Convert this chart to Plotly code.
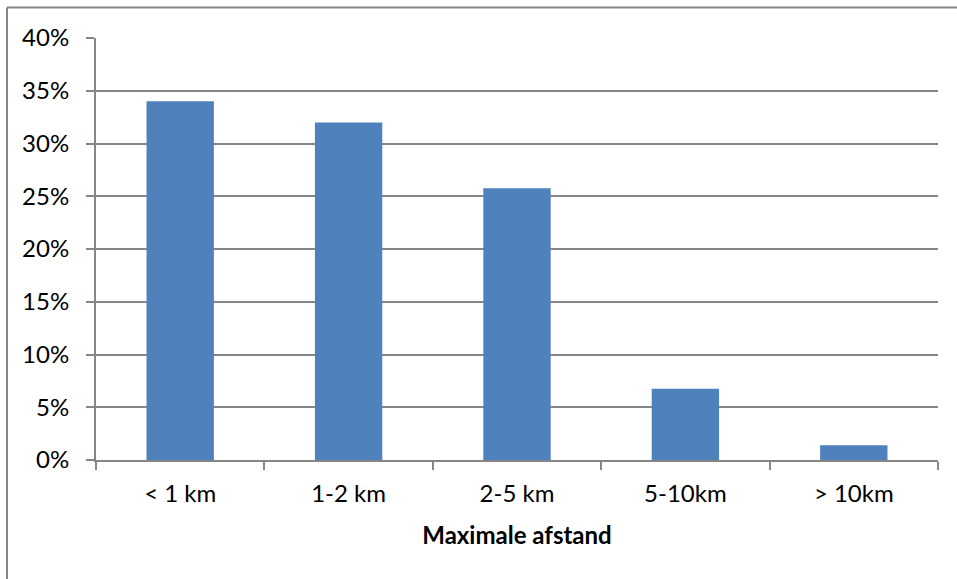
import plotly.graph_objects as go

categories = ["< 1 km", "1-2 km", "2-5 km", "5-10km", "> 10km"]
values = [0.340, 0.320, 0.2575, 0.0675, 0.014]
y_ticks = [0, 0.05, 0.10, 0.15, 0.20, 0.25, 0.30, 0.35, 0.40]

W, H = 957, 579
L, R, T, B = 96, 19, 38, 119
pw, ph = W - L - R, H - T - B

GRAY = "#868686"
FONT = "Lato, Carlito, Calibri, sans-serif"
FS = 24

fig = go.Figure(go.Bar(
    x=categories, y=values,
    marker=dict(color="#4F81BD", line=dict(width=0)),
))

fig.update_layout(
    width=W, height=H,
    margin=dict(l=L, r=R, t=T, b=B),
    paper_bgcolor="white", plot_bgcolor="white",
    bargap=0.6,
    showlegend=False,
    font=dict(family=FONT, size=FS, color="black"),
    xaxis=dict(
        type="category",
        tickson="boundaries",
        ticks="outside", ticklen=8, tickwidth=2, tickcolor=GRAY,
        showline=True, linecolor=GRAY, linewidth=2,
        showgrid=False,
        tickfont=dict(size=FS),
        ticklabelstandoff=11,
        title=dict(text="<b>Maximale afstand</b>", font=dict(size=FS), standoff=21),
    ),
    yaxis=dict(
        range=[0, 0.40],
        tickvals=y_ticks,
        tickformat=".0%",
        ticks="outside", ticklen=8, tickwidth=2, tickcolor=GRAY,
        showline=True, linecolor=GRAY, linewidth=2,
        showgrid=True, gridcolor=GRAY, gridwidth=2,
        zeroline=False,
        tickfont=dict(size=FS),
        ticklabelstandoff=12,
    ),
)

# outer chart border (visible on top and left in the reference)
x_left = (7 - L) / pw
y_top = 1 + (T - 7.5) / ph
fig.add_shape(type="line", xref="paper", yref="paper",
              x0=x_left, x1=1 + (R + 5) / pw, y0=y_top, y1=y_top,
              line=dict(color=GRAY, width=2))
fig.add_shape(type="line", xref="paper", yref="paper",
              x0=x_left, x1=x_left, y0=y_top, y1=-(B + 5) / ph,
              line=dict(color=GRAY, width=2))

fig.write_html(
    "out.html",
    config={"displayModeBar": False},
    post_script="document.body.style.margin='0';document.body.style.overflow='hidden';",
)
